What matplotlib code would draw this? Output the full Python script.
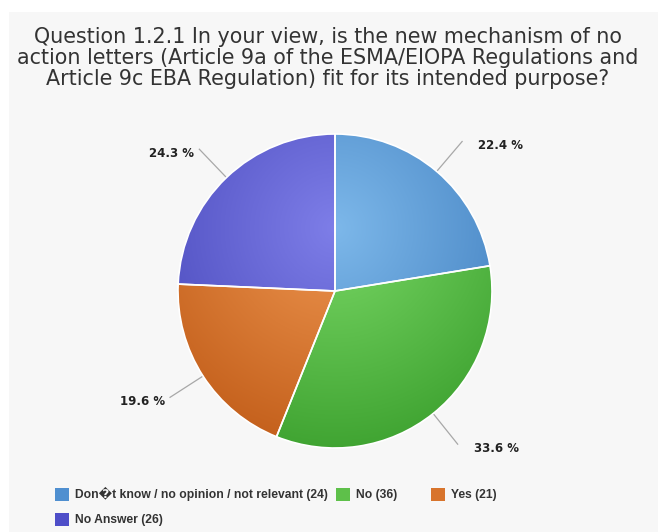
import numpy as np
import matplotlib
matplotlib.use("Agg")
import matplotlib.pyplot as plt
from matplotlib.patches import Rectangle
from matplotlib.colors import to_rgb

# ---- data -------------------------------------------------------------
title_lines = [
    "Question 1.2.1 In your view, is the new mechanism of no",
    "action letters (Article 9a of the ESMA/EIOPA Regulations and",
    "Article 9c EBA Regulation) fit for its intended purpose?",
]
categories = ["Don\ufffdt know / no opinion / not relevant", "No", "Yes", "No Answer"]
counts = [24, 36, 21, 26]

# slice colours: light centre of the radial gradient -> darker rim
inner_colors = ["#7db8ea", "#7ad866", "#ee9650", "#7e7ee8"]
outer_colors = ["#4280c0", "#40a432", "#c4601c", "#4a4abc"]
legend_colors = ["#4f8fd0", "#5ec04a", "#d8742c", "#4e4ec8"]

# ---- figure in pixel units --------------------------------------------
W, H = 658, 532
fig = plt.figure(figsize=(W / 100, H / 100), dpi=100)
fig.patch.set_facecolor("white")
ax = fig.add_axes([0, 0, 1, 1])

ax.add_patch(Rectangle((9, 0), W - 9, H - 12, facecolor="#f7f7f7",
                       edgecolor="none", zorder=0))

cx, cy, R = 335, H - 291, 157
wedges, _ = ax.pie(counts, radius=R, center=(cx, cy), startangle=90,
                   counterclock=False, frame=True,
                   wedgeprops=dict(linewidth=1.2, edgecolor="white"))

# radial gradient fill, clipped to each wedge
gx, gy, gr = cx, H - 228, 221
xs = np.linspace(cx - R, cx + R, 500)
ys = np.linspace(cy - R, cy + R, 500)
X, Y = np.meshgrid(xs, ys)
t = np.clip(np.hypot(X - gx, Y - gy) / gr, 0, 1)[..., None]
for w, c0, c1 in zip(wedges, inner_colors, outer_colors):
    img = (1 - t) * np.array(to_rgb(c0)) + t * np.array(to_rgb(c1))
    im = ax.imshow(img, extent=(cx - R, cx + R, cy - R, cy + R),
                   origin="lower", interpolation="bilinear", zorder=1)
    im.set_clip_path(w)
    w.set_facecolor("none")
    w.set_zorder(2)

# data labels with connectors
total = sum(counts)
for w, n in zip(wedges, counts):
    a = np.deg2rad((w.theta1 + w.theta2) / 2)
    x0, y0 = cx + R * np.cos(a), cy + R * np.sin(a)
    x1, y1 = cx + 1.25 * R * np.cos(a), cy + 1.25 * R * np.sin(a)
    ax.plot([x0, x1], [y0, y1], color="#a8a8a8", lw=0.9, zorder=1)
    right = np.cos(a) > 0
    ax.text(x1 + (16 if right else -5), y1 - 4, f"{100 * n / total:.1f} %",
            ha="left" if right else "right", va="center",
            fontsize=8.5, fontweight="bold", color="#222222", zorder=3)

# title
for i, line in enumerate(title_lines):
    ax.text(328, H - (43 + 21 * i), line, ha="center", va="baseline",
            fontsize=14.9, color="#333333")

# legend: three items on the first row, the fourth below
legend_slots = [(55, 498), (336, 498), (431, 498), (55, 523)]
for (lx, base), name, n, col in zip(legend_slots, categories, counts, legend_colors):
    ax.add_patch(Rectangle((lx, H - base - 3), 14, 13,
                           facecolor=col, edgecolor="none"))
    ax.text(lx + 20, H - base, f"{name} ({n})", ha="left", va="baseline",
            fontsize=8.7, fontweight="bold", color="#333333",
            family=["Liberation Sans", "DejaVu Sans"])

ax.set_xlim(0, W)
ax.set_ylim(0, H)
ax.set_aspect("auto")
ax.axis("off")

fig.savefig("out.png", dpi=100, facecolor=fig.get_facecolor())
